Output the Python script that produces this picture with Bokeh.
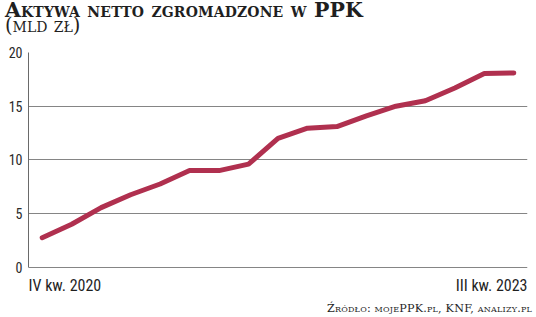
from bokeh.plotting import figure
from bokeh.models import Range1d, Div, FixedTicker
from bokeh.core.properties import value
from bokeh.layouts import column
from bokeh.embed import file_html
from bokeh.resources import INLINE

# data (mld zł), consecutive observations from IV kw. 2020 to III kw. 2023
values = [2.75, 4.0, 5.55, 6.75, 7.75, 9.0, 9.0, 9.6, 12.0, 12.95, 13.1,
          14.1, 15.0, 15.5, 16.7, 18.05, 18.1]
idx = list(range(len(values)))
end_labels = ["IV kw. 2020", "III kw. 2023"]
y_ticks = [0, 5, 10, 15, 20]
title = "Aktywa netto zgromadzone w PPK"
unit = "(mld zł)"
source = "Źródło: mojePPK.pl, KNF, analizy.pl"

SERIF = "DejaVu Serif"
SANS_N = "Roboto Condensed"
LINE = "#b0304f"
INK = "#1f1f1f"

title_div = Div(
    text=(f'<div style="padding-left:5px;font-family:{SERIF};font-variant:small-caps;'
          f'font-weight:bold;font-size:20.5px;letter-spacing:0.15px;line-height:20px;color:{INK};white-space:nowrap">{title}</div>'
          f'<div style="padding-left:5px;margin-top:-2px;font-family:{SERIF};font-variant:small-caps;'
          f'font-size:19.5px;line-height:16px;color:{INK};white-space:nowrap">{unit}</div>'),
    width=536, height=42, margin=(0, 0, 0, 0))

pad = 0.465
x0, x1 = idx[0] - pad, idx[-1] + pad
p = figure(width=536, height=258, output_backend="svg", toolbar_location=None,
           x_range=Range1d(x0, x1), y_range=Range1d(-3.102, 20),
           min_border_left=28, min_border_right=9, min_border_top=10, min_border_bottom=0,
           outline_line_color=None, margin=(0, 0, 0, 0))

p.xaxis.visible = False
p.xgrid.visible = False
p.ygrid.ticker = FixedTicker(ticks=y_ticks)
p.ygrid.grid_line_color = "#858585"
p.ygrid.grid_line_width = 1

p.yaxis.ticker = FixedTicker(ticks=y_ticks)
p.yaxis.bounds = (y_ticks[0], y_ticks[-1])
p.yaxis.major_tick_in = 0
p.yaxis.major_tick_out = 0
p.yaxis.minor_tick_in = 0
p.yaxis.minor_tick_out = 0
p.yaxis.axis_line_color = "#6a6a6a"
p.yaxis.major_label_standoff = 6
p.yaxis.major_label_text_font = SANS_N
p.yaxis.major_label_text_font_size = "14px"
p.yaxis.major_label_text_color = "#2a2a2a"

p.line(idx, values, line_width=5, color=LINE, line_join="round", line_cap="round")

p.text(x=[x0], y=[0], text=[end_labels[0]], text_align="left", text_baseline="alphabetic",
       y_offset=18, text_font=value(SANS_N), text_font_size="16px", text_color=INK)
p.text(x=[x1], y=[0], text=[end_labels[1]], text_align="right", text_baseline="alphabetic",
       y_offset=18, text_font=value(SANS_N), text_font_size="16px", text_color=INK)

source_div = Div(
    text=(f'<div style="width:532px;text-align:right;font-family:{SERIF};'
          f'font-variant:small-caps;font-size:11.2px;letter-spacing:0.2px;line-height:11px;color:{INK};white-space:nowrap">{source}</div>'),
    width=536, height=17, margin=(0, 0, 0, 0))

layout = column(title_div, p, source_div, spacing=0, margin=(0, 0, 0, 0))
open("out.html", "w").write(file_html(layout, INLINE))
